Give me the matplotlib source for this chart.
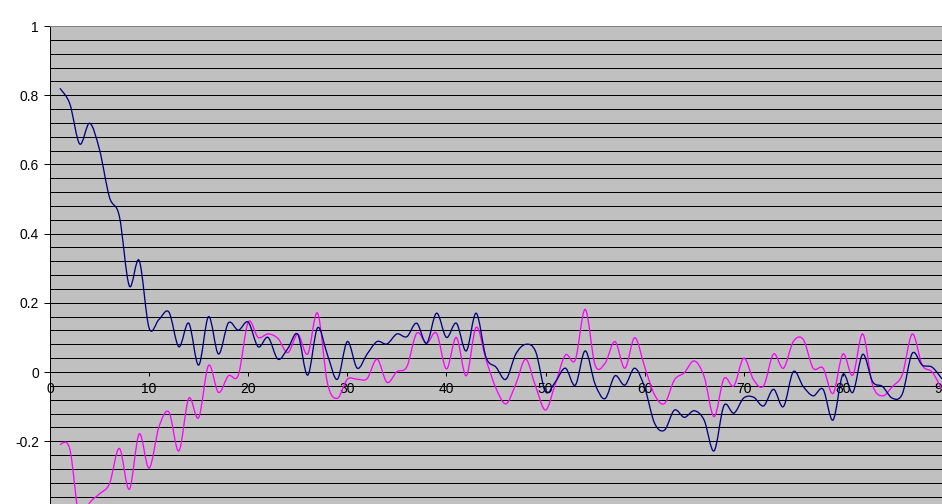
"""Two smoothed series on an Excel-style grey plot area (x axis crossing at y=0)."""
import numpy as np
import matplotlib
matplotlib.use("Agg")
import matplotlib.pyplot as plt
from matplotlib.path import Path
from matplotlib.patches import PathPatch

# --- data ---
X = list(range(1, 91))
BLUE = [
    0.820, 0.775, 0.659, 0.719, 0.642, 0.505, 0.450, 0.249, 0.322, 0.127,
    0.152, 0.173, 0.073, 0.141, 0.020, 0.160, 0.052, 0.142, 0.121, 0.144,
    0.073, 0.100, 0.037, 0.068, 0.109, -0.009, 0.128, 0.049, -0.021, 0.088,
    0.011, 0.052, 0.088, 0.081, 0.110, 0.102, 0.141, 0.083, 0.170, 0.100,
    0.141, 0.061, 0.170, 0.042, 0.014, -0.021, 0.052, 0.080, 0.059, -0.057,
    -0.028, 0.011, -0.038, 0.061, -0.035, -0.077, -0.011, -0.038, 0.011, -0.045,
    -0.148, -0.168, -0.110, -0.131, -0.112, -0.139, -0.228, -0.097, -0.119, -0.075,
    -0.073, -0.098, -0.050, -0.100, 0.001, -0.042, -0.069, -0.050, -0.139, -0.007,
    -0.059, 0.051, -0.028, -0.042, -0.076, -0.063, 0.054, 0.020, 0.014, -0.020,
]
PINK = [
    -0.209, -0.223, -0.430, -0.378, -0.352, -0.323, -0.221, -0.339, -0.179, -0.278,
    -0.158, -0.116, -0.228, -0.076, -0.132, 0.019, -0.059, -0.011, -0.009, 0.144,
    0.100, 0.110, 0.097, 0.056, 0.109, 0.052, 0.170, -0.033, -0.076, -0.021,
    -0.021, -0.019, 0.037, -0.030, 0.001, 0.015, 0.112, 0.083, 0.112, 0.009,
    0.100, -0.011, 0.129, 0.035, -0.047, -0.092, -0.035, 0.037, -0.042, -0.110,
    -0.033, 0.049, 0.035, 0.181, 0.020, 0.025, 0.088, 0.011, 0.099, 0.015,
    -0.066, -0.091, -0.023, -0.002, 0.032, -0.013, -0.129, -0.019, -0.040, 0.040,
    -0.023, -0.040, 0.052, 0.011, 0.088, 0.094, 0.011, 0.011, -0.062, 0.052,
    -0.009, 0.110, -0.038, -0.069, -0.042, -0.007, 0.110, 0.020, 0.000, -0.050,
]
X_TICKS = [0, 10, 20, 30, 40, 50, 60, 70, 80, 90]
X_TICK_LABELS = ["0", "10", "20", "30", "40", "50", "60", "70", "80", "90"]
Y_TICKS = [-0.2, 0, 0.2, 0.4, 0.6, 0.8, 1]
Y_TICK_LABELS = ["-0.2", "0", "0.2", "0.4", "0.6", "0.8", "1"]
GRID_STEP = 0.04

W, H = 942, 504
PX = 72 / 100  # one pixel in points at dpi 100


def smooth_path(xs, ys):
    # Excel "smoothed line": a cubic Bezier between neighbours (Catmull-Rom style).
    n = len(xs)
    verts = [(xs[0], ys[0])]
    codes = [Path.MOVETO]
    for i in range(n - 1):
        a = max(i - 1, 0)
        d = min(i + 2, n - 1)
        c1 = (xs[i] + (xs[i + 1] - xs[a]) / 6, ys[i] + (ys[i + 1] - ys[a]) / 6)
        c2 = (xs[i + 1] - (xs[d] - xs[i]) / 6, ys[i + 1] - (ys[d] - ys[i]) / 6)
        verts += [c1, c2, (xs[i + 1], ys[i + 1])]
        codes += [Path.CURVE4] * 3
    return Path(verts, codes)


def main():
    plt.rcParams["font.family"] = ["Liberation Sans", "DejaVu Sans"]
    fig = plt.figure(figsize=(W / 100, H / 100), dpi=100)
    # plot area runs off the right and bottom edges, like the screenshot
    ax = fig.add_axes([50 / W, 0, (W - 50) / W, (H - 26) / H])
    ax.set_facecolor("#c0c0c0")
    ax.set_xlim(0, (W - 50) / 9.97)
    ax.set_ylim(-(H - 372) / 346, 1.0)

    # horizontal gridlines, one pixel wide
    ymin = ax.get_ylim()[0]
    levels = np.arange(round(ymin / GRID_STEP), round(1 / GRID_STEP) + 1) * GRID_STEP
    ax.hlines(levels, 0, 1, transform=ax.get_yaxis_transform(), colors="black",
              lw=PX, antialiased=False, zorder=1)

    for ys, color in [(PINK, "#ff00ff"), (BLUE, "#000080")]:
        ax.add_patch(PathPatch(smooth_path(X, ys), fill=False, edgecolor=color,
                               lw=1.3 * PX, zorder=3, transform=ax.transData))

    ax.spines["bottom"].set_position(("data", 0))
    ax.spines["right"].set_visible(False)
    ax.spines["top"].set_color("#808080")
    ax.spines["top"].set_linewidth(PX)
    for s in ("left", "bottom"):
        ax.spines[s].set_color("black")
        ax.spines[s].set_linewidth(PX)

    ax.set_xticks(X_TICKS)
    ax.set_xticklabels(X_TICK_LABELS)
    ax.set_yticks(Y_TICKS)
    ax.set_yticklabels(Y_TICK_LABELS)
    ax.tick_params(axis="x", direction="out", length=3, width=PX, pad=4,
                   labelsize=10, colors="black")
    ax.tick_params(axis="y", direction="out", length=4, width=PX, pad=4,
                   labelsize=10, colors="black")

    fig.savefig("out.png", dpi=100, facecolor="white")


if __name__ == "__main__":
    main()
